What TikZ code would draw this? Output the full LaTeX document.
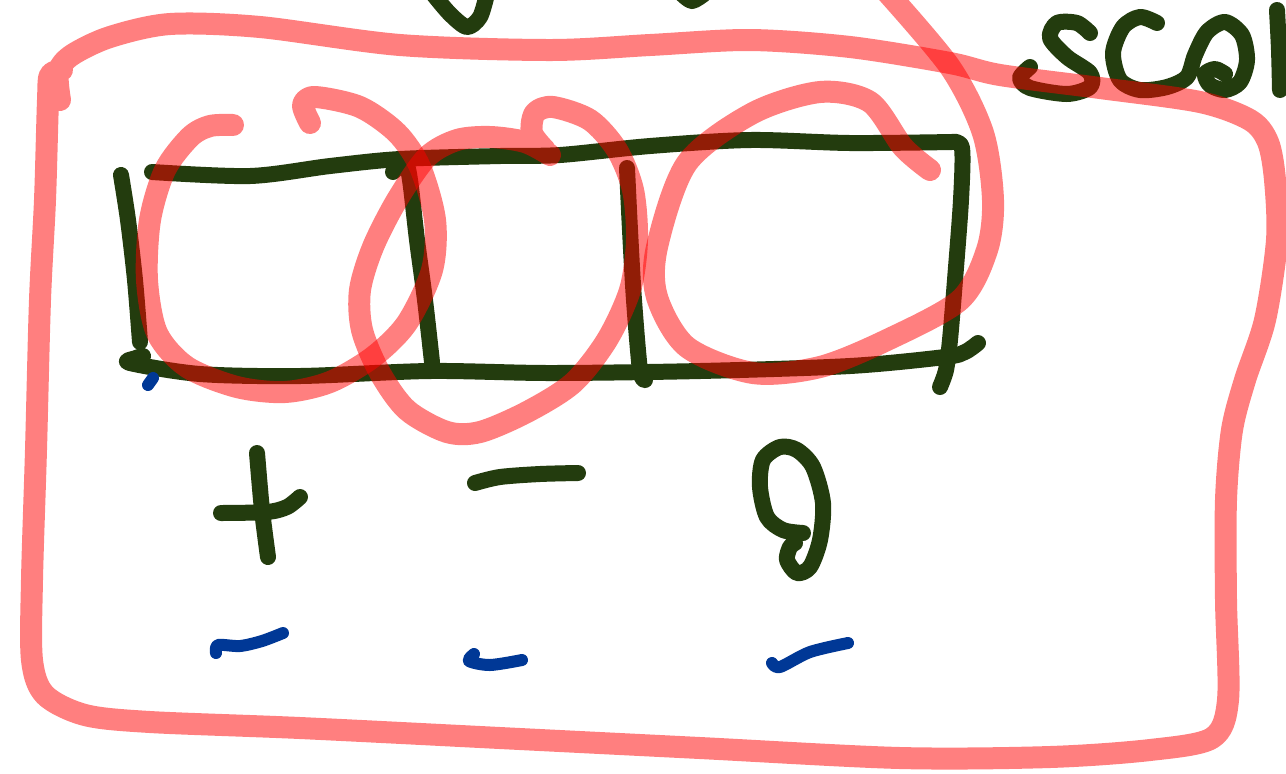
\documentclass[tikz,border=0pt]{standalone}
\definecolor{inkgreen}{RGB}{35,60,14}
\definecolor{inkblue}{RGB}{0,56,150}
\tikzset{
  greenink/.style={draw=inkgreen, line width=8pt, line cap=round, line join=round},
  pinkink/.style={draw=red, draw opacity=0.5, line width=11pt, line cap=round, line join=round},
  blueink/.style={draw=inkblue, line width=6pt, line cap=round, line join=round},
}
\begin{document}
\begin{tikzpicture}[x=0.5pt,y=-0.5pt]
\useasboundingbox (0,0) rectangle (1286,773);
\fill[white] (0,0) rectangle (1286,773);
\clip (0,0) rectangle (1286,773);

% ---------- green strokes ----------
% partial letters at top
\draw[greenink] plot[smooth] coordinates {(433,-6) (450,14) (467,27) (480,17) (487,-6)};
\draw[greenink] plot[smooth] coordinates {(682,-6) (692,1) (704,-6)};
% "sco..." at top right
\draw[greenink] plot[smooth] coordinates {(1090,33) (1077,23) (1057,23) (1050,38) (1067,57) (1090,73) (1090,87) (1067,94) (1030,88) (1020,78) (1030,67)};
\draw[greenink] plot[smooth] coordinates {(1157,23) (1140,17) (1123,27) (1113,53) (1120,80) (1140,90) (1167,87) (1187,77) (1195,55) (1207,32) (1225,22) (1242,35) (1247,60) (1240,82) (1225,90) (1210,85) (1205,74) (1215,69) (1225,74)};
\draw[greenink] plot[smooth] coordinates {(1277,10) (1279,50) (1280,90)};
% box
\draw[greenink] plot[smooth] coordinates {(152,172) (250,176) (330,166) (400,159) (500,156) (560,155) (650,146) (750,140) (850,143) (952,142)};
\draw[greenink] plot[smooth] coordinates {(952,142) (962,148) (961,200) (955,280) (950,340) (946,370) (940,387)};
\draw[greenink] plot[smooth] coordinates {(121,175) (128,220) (135,280) (140,342)};
\draw[greenink] plot[smooth] coordinates {(143,356) (136,358) (130,363) (200,374) (300,376) (430,371) (550,373) (700,371) (850,366) (945,357) (965,352) (978,343)};
\draw[greenink] plot[smooth] coordinates {(393,172) (405,163) (410,180) (417,240) (425,300) (432,362)};
\draw[greenink] plot[smooth] coordinates {(627,168) (630,230) (634,300) (640,370) (645,380)};
% plus, minus, zero
\draw[greenink] plot[smooth] coordinates {(257,453) (262,510) (268,557)};
\draw[greenink] plot[smooth] coordinates {(221,513) (267,512) (287,507) (300,497)};
\draw[greenink] plot[smooth] coordinates {(475,483) (500,477) (540,474) (578,473)};
\draw[greenink] plot[smooth] coordinates {(803,533) (783,530) (767,517) (760,487) (763,460) (780,447) (797,450) (813,467) (823,503) (820,540) (810,567) (797,573) (787,560) (790,547) (795,543)};

% ---------- blue strokes ----------
\draw[blueink] plot[smooth] coordinates {(148,385) (153,378)};
\draw[blueink] plot[smooth] coordinates {(216,653) (218,645) (240,646) (262,641) (283,633)};
\draw[blueink] plot[smooth] coordinates {(474,654) (469,661) (490,665) (522,660)};
\draw[blueink] plot[smooth] coordinates {(772,663) (780,667) (810,652) (848,643)};

% ---------- pink strokes ----------
\draw[pinkink] plot[smooth] coordinates {(60,100) (58,72) (72,55) (110,37) (170,24) (260,27) (400,45) (550,50) (650,45) (750,40) (850,47) (950,63) (1000,75) (1100,88) (1200,102) (1250,120) (1268,142) (1275,180) (1277,240) (1265,320) (1245,380) (1232,430) (1226,500) (1226,600) (1228,700) (1212,738) (1150,750) (1050,757) (900,758) (700,748) (500,738) (300,728) (150,722) (85,715) (45,695) (32,660) (32,580) (36,450) (40,300) (45,200) (48,100) (50,75) (62,70)};
\draw[pinkink] plot[smooth] coordinates {(310,123) (303,105) (315,97) (360,107) (397,133) (420,167) (435,220) (432,270) (407,323) (373,357) (330,382) (285,392) (237,387) (187,367) (157,333) (147,280) (150,220) (165,170) (190,137) (210,126) (233,125)};
\draw[pinkink] plot[smooth] coordinates {(550,155) (525,142) (490,137) (457,140) (427,157) (397,200) (373,247) (360,290) (362,330) (380,373) (407,410) (447,432) (480,432) (527,412) (573,383) (607,340) (630,290) (637,240) (633,190) (617,150) (590,120) (553,107) (535,113) (532,133) (545,150)};
\draw[pinkink] plot[smooth] coordinates {(885,-10) (950,67) (983,133) (993,200) (987,250) (960,300) (887,340) (820,367) (753,373) (687,347) (657,297) (657,247) (687,163) (753,113) (820,92) (870,102) (903,147) (930,170)};
\end{tikzpicture}
\end{document}
